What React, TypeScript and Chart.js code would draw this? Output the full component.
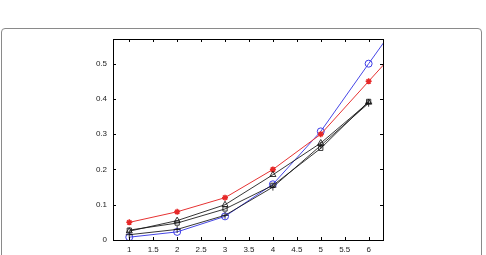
import React, { useEffect, useRef } from "react";
import { Chart, registerables } from "chart.js";
Chart.register(...registerables);

const xValues = [1, 2, 3, 4, 5, 6, 7];
const redStar = [0.05, 0.08, 0.12, 0.2, 0.3, 0.45, 0.6];
const blueCircle = [0.008, 0.023, 0.067, 0.158, 0.308, 0.5, 0.69];
const blackTriangle = [0.025, 0.055, 0.1, 0.185, 0.275, 0.39];
const blackSquare = [0.028, 0.048, 0.088, 0.155, 0.26, 0.393];
const blackPlus = [0.015, 0.03, 0.07, 0.15, 0.268, 0.388];
const xTicks = [1, 1.5, 2, 2.5, 3, 3.5, 4, 4.5, 5, 5.5, 6];
const yTicks = [0, 0.1, 0.2, 0.3, 0.4, 0.5];
const xRange = [0.66, 6.3];
const yRange = [0, 0.57];

const toPoints = (vals: number[]) => vals.map((v, i) => ({ x: xValues[i], y: v }));

const frame = {
  id: "frame",
  afterDatasetsDraw(chart: any) {
    const { ctx, chartArea: a, scales } = chart;
    const xs = scales.x, ys = scales.y;
    const L = 3;
    ctx.save();
    ctx.strokeStyle = "#000";
    ctx.lineWidth = 1;
    ctx.beginPath();
    xTicks.forEach((t) => {
      const px = Math.round(xs.getPixelForValue(t)) + 0.5;
      ctx.moveTo(px, a.bottom);
      ctx.lineTo(px, a.bottom - L);
      ctx.moveTo(px, a.top);
      ctx.lineTo(px, a.top + L);
    });
    yTicks.forEach((t) => {
      const py = Math.round(ys.getPixelForValue(t)) + 0.5;
      ctx.moveTo(a.left, py);
      ctx.lineTo(a.left + L, py);
      ctx.moveTo(a.right, py);
      ctx.lineTo(a.right - L, py);
    });
    ctx.stroke();
    ctx.strokeRect(Math.round(a.left) + 0.5, Math.round(a.top) + 0.5, Math.round(a.right - a.left), Math.round(a.bottom - a.top));
    ctx.restore();
  },
};

export default function App() {
  const ref = useRef<HTMLCanvasElement>(null);
  useEffect(() => {
    if (!ref.current) return;
    const black = "rgba(20,20,20,0.85)";
    const chart = new Chart(ref.current, {
      type: "line",
      data: {
        datasets: [
          { data: toPoints(blackTriangle), borderColor: black, backgroundColor: "transparent", pointStyle: "triangle", pointRadius: 3.5, pointBorderColor: black, pointBorderWidth: 1, borderWidth: 1 },
          { data: toPoints(blackSquare), borderColor: black, backgroundColor: "transparent", pointStyle: "rect", pointRadius: 3, pointBorderColor: black, pointBorderWidth: 1, borderWidth: 1 },
          { data: toPoints(blackPlus), borderColor: black, backgroundColor: "transparent", pointStyle: "cross", pointRadius: 3.5, pointBorderColor: black, pointBorderWidth: 1, borderWidth: 1 },
          { data: toPoints(redStar), borderColor: "rgb(230,50,50)", backgroundColor: "transparent", pointStyle: "star", pointRadius: 3, pointBorderColor: "rgb(230,40,40)", pointBorderWidth: 1.5, borderWidth: 1 },
          { data: toPoints(blueCircle), borderColor: "rgb(70,70,230)", backgroundColor: "transparent", pointStyle: "circle", pointRadius: 3.5, pointBorderColor: "rgb(60,60,230)", pointBorderWidth: 1, borderWidth: 1 },
        ],
      } as any,
      options: {
        animation: false,
        responsive: false,
        events: [],
        layout: { padding: { left: 83, top: 39, right: 103, bottom: 1 } },
        plugins: { legend: { display: false }, tooltip: { enabled: false } },
        scales: {
          x: {
            type: "linear",
            min: xRange[0],
            max: xRange[1],
            afterBuildTicks: (s: any) => { s.ticks = xTicks.map((v) => ({ value: v })); },
            afterFit: (s: any) => { s.height = 14; },
            grid: { display: false, drawTicks: false },
            border: { display: false },
            ticks: { padding: 5, color: "#222", font: { family: "Liberation Sans", size: 8 }, maxRotation: 0, autoSkip: false, callback: (v: any) => String(v) },
          },
          y: {
            type: "linear",
            min: yRange[0],
            max: yRange[1],
            afterBuildTicks: (s: any) => { s.ticks = yTicks.map((v) => ({ value: v })); },
            afterFit: (s: any) => { s.width = 30; },
            grid: { display: false, drawTicks: false },
            border: { display: false },
            ticks: { padding: 6, color: "#222", font: { family: "Liberation Sans", size: 8 }, autoSkip: false, callback: (v: any) => String(Math.round(v * 10) / 10) },
          },
        },
      } as any,
      plugins: [frame],
    });
    return () => chart.destroy();
  }, []);
  return (
    <div style={{ position: "fixed", left: 0, top: 0, width: 486, height: 255, background: "#fff", overflow: "hidden" }}>
      <div style={{ position: "absolute", left: 1, top: 28, width: 481, height: 260, border: "1.5px solid #8a8a8a", borderRadius: 4, boxSizing: "border-box" }} />
      <canvas ref={ref} width={486} height={255} style={{ position: "absolute", left: 0, top: 0, width: 486, height: 255 }} />
    </div>
  );
}
